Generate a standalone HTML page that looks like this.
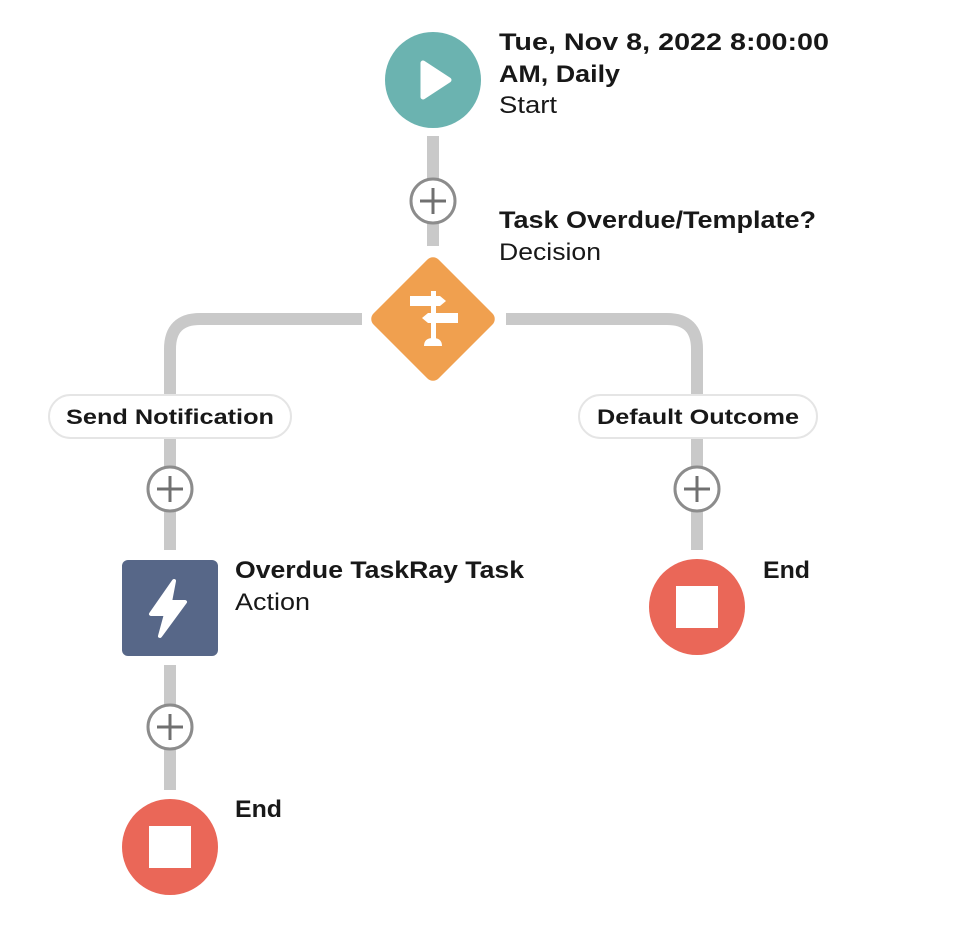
<!DOCTYPE html>
<html><head><style>
body{margin:0;background:#fff;width:954px;height:944px;overflow:hidden}
svg text{font-family:"Liberation Sans",sans-serif;fill:#181818}
.b{font-weight:bold;font-size:24px}
.n{font-size:24px}
.p{font-weight:bold;font-size:21px}
</style></head><body>
<svg width="954" height="944" viewBox="0 0 954 944">
<g stroke="#c9c9c9" stroke-width="12" fill="none">
<line x1="433" y1="136" x2="433" y2="246"/>
<path d="M362 319 H200 Q170 319 170 349 V395"/>
<path d="M506 319 H667 Q697 319 697 349 V395"/>
<line x1="170" y1="438" x2="170" y2="550"/>
<line x1="697" y1="438" x2="697" y2="550"/>
<line x1="170" y1="665" x2="170" y2="790"/>
</g>
<circle cx="433" cy="80" r="48" fill="#6bb3b0"/>
<path d="M423 63 L423 97 L449 80 Z" fill="#fff" stroke="#fff" stroke-width="5" stroke-linejoin="round"/>
<g fill="#fff" stroke="#8c8c8c" stroke-width="3">
<circle cx="433" cy="201" r="22"/>
<circle cx="170" cy="489" r="22"/>
<circle cx="697" cy="489" r="22"/>
<circle cx="170" cy="727" r="22"/>
</g>
<g stroke="#707070" stroke-width="3">
<path d="M420 201H446M433 188V214"/>
<path d="M157 489H183M170 476V502"/>
<path d="M684 489H710M697 476V502"/>
<path d="M157 727H183M170 714V740"/>
</g>
<rect x="387" y="273" width="92" height="92" rx="8" fill="#f0a04f" transform="rotate(45 433 319)"/>
<g fill="#fff">
<path d="M410 296 h30 l6 5 l-6 5 h-30z"/>
<path d="M458 313 h-30 l-6 5 l6 5 h30z"/>
<rect x="431" y="291" width="5" height="50"/>
<path d="M424 346 q0 -8 9 -8 q9 0 9 8z"/>
</g>
<rect x="49" y="395" width="242" height="43" rx="21.5" fill="#fff" stroke="#e5e5e5" stroke-width="2"/>
<rect x="579" y="395" width="238" height="43" rx="21.5" fill="#fff" stroke="#e5e5e5" stroke-width="2"/>
<text class="p" x="66" y="424" textLength="208" lengthAdjust="spacingAndGlyphs">Send Notification</text>
<text class="p" x="597" y="424" textLength="202" lengthAdjust="spacingAndGlyphs">Default Outcome</text>
<rect x="122" y="560" width="96" height="96" rx="6" fill="#576788"/>
<path d="M174 581 L151 614 H166 L160 636 L185 602 H170 Z" fill="#fff" stroke="#fff" stroke-width="4" stroke-linejoin="round"/>
<circle cx="170" cy="847" r="48" fill="#ea6758"/>
<rect x="149" y="826" width="42" height="42" fill="#fff"/>
<circle cx="697" cy="607" r="48" fill="#ea6758"/>
<rect x="676" y="586" width="42" height="42" fill="#fff"/>
<text class="b" x="499" y="50" textLength="330" lengthAdjust="spacingAndGlyphs">Tue, Nov 8, 2022 8:00:00</text>
<text class="b" x="499" y="82" textLength="121" lengthAdjust="spacingAndGlyphs">AM, Daily</text>
<text class="n" x="499" y="113" textLength="58" lengthAdjust="spacingAndGlyphs">Start</text>
<text class="b" x="499" y="228" textLength="317" lengthAdjust="spacingAndGlyphs">Task Overdue/Template?</text>
<text class="n" x="499" y="260" textLength="102" lengthAdjust="spacingAndGlyphs">Decision</text>
<text class="b" x="235" y="578" textLength="289" lengthAdjust="spacingAndGlyphs">Overdue TaskRay Task</text>
<text class="n" x="235" y="610" textLength="75" lengthAdjust="spacingAndGlyphs">Action</text>
<text class="b" x="763" y="578" textLength="47" lengthAdjust="spacingAndGlyphs">End</text>
<text class="b" x="235" y="817" textLength="47" lengthAdjust="spacingAndGlyphs">End</text>
</svg>
</body></html>
